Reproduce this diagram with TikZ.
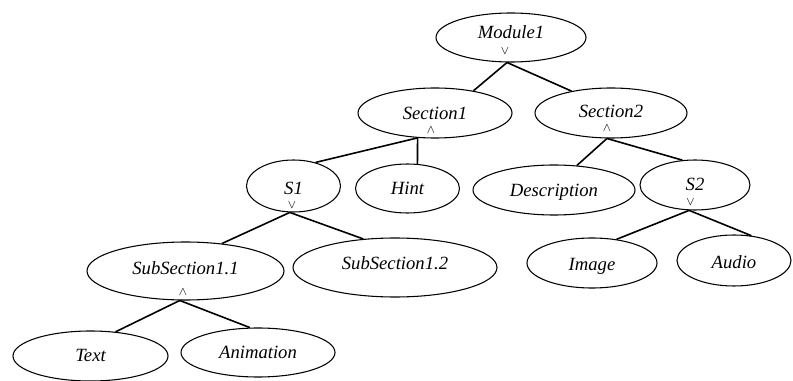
\documentclass[tikz,border=0pt]{standalone}
\usepackage{fontspec}
\setmainfont{Liberation Serif}
\usetikzlibrary{shapes.geometric}
\begin{document}
\begin{tikzpicture}[x=0.75pt,y=-0.75pt,
  concept/.style 2 args={ellipse, draw, line width=0.8pt, inner sep=0pt,
    minimum width=#1*1.5pt, minimum height=#2*1.5pt,
    font=\fontsize{14}{16}\selectfont\itshape, text height=9.3pt, text depth=0pt},
  lift/.style={text depth=#1},
  link/.style={line width=1.2pt},
  op/.style={inner sep=0pt, font=\fontsize{9}{9}\selectfont}]
\useasboundingbox (0,0) rectangle (793,381);

% concept nodes
\node[concept={75}{24.5}, lift=8.2pt] (mod) at (511,37.5) {Module1};
\node[concept={77}{25}] (sec1) at (435,113) {Section1};
\node[concept={76}{25}, lift=3pt] (sec2) at (611,113) {Section2};
\node[concept={47}{26}, text height=12.3pt] (s1) at (293.5,186) {S1};
\node[concept={52}{24.5}] (hint) at (407.5,188.5) {Hint};
\node[concept={81}{25}] (desc) at (554,190) {Description};
\node[concept={55}{25}, lift=1.5pt] (s2) at (695,185) {S2};
\node[concept={98.5}{29}, lift=4.5pt] (sub11) at (185.5,271) {SubSection1.1};
\node[concept={102}{29.5}, lift=6.8pt] (sub12) at (395,267.5) {SubSection1.2};
\node[concept={65}{25}, text height=10.8pt] (img) at (592,263) {Image};
\node[concept={57}{25.5}, text height=11.3pt] (aud) at (734,260.5) {Audio};
\node[concept={77.5}{25}, lift=1.5pt] (txt) at (90.5,356) {Text};
\node[concept={77}{24.5}] (anim) at (258,352.5) {Animation};

% operator marks
\node[op] (opmod) at (505,51.5) {$\vee$};
\node[op] (opsec1) at (431,130) {$\wedge$};
\node[op] (opsec2) at (607,128.5) {$\wedge$};
\node[op] (ops1) at (292,205) {$\vee$};
\node[op] (ops2) at (690.5,202) {$\vee$};
\node[op] (opsub11) at (183,292) {$\wedge$};

% connectors
\draw[link] (mod.-99) -- (sec1.30);
\draw[link] (mod.-99) -- (sec2.151);
\draw[link] (sec1.-125) -- (s1.47);
\draw[link] (sec1.-125) -- (hint.68);
\draw[link] (sec2.-99) -- (desc.47);
\draw[link] (sec2.-99) -- (s2.117);
\draw[link] (s1.-98) -- (sub11.37);
\draw[link] (s1.-98) -- (sub12.138);
\draw[link] (s2.-103) -- (img.44);
\draw[link] (s2.-103) -- (aud.55);
\draw[link] (sub11.-101) -- (txt.44);
\draw[link] (sub11.-101) -- (anim.108);
\end{tikzpicture}
\end{document}
